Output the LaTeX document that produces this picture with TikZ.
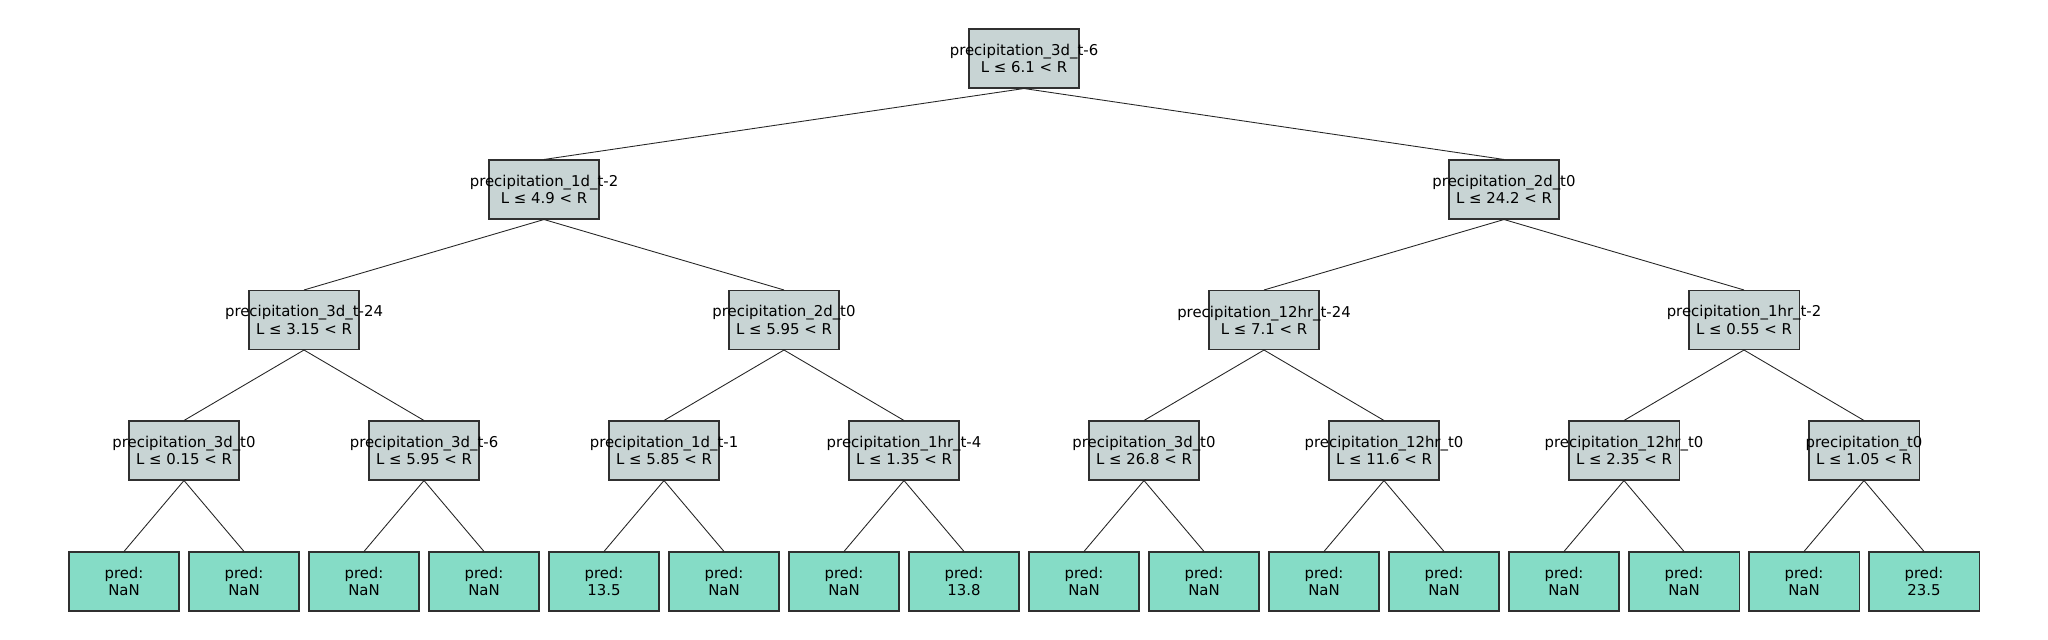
\documentclass[tikz,border=0pt]{standalone}
\usepackage{fontspec}
\setmainfont{DejaVu Sans}
\usepackage{tikz}

\definecolor{splitgray}{HTML}{C8D4D4}
\definecolor{leafgreen}{HTML}{85DCC6}
\definecolor{boxline}{HTML}{303030}

% split text: feature name and threshold, allowed to overflow the box
\newcommand{\splitlabel}[2]{\makebox[0pt]{precipitation\_#1}\\\makebox[0pt]{L ≤ #2 < R}}

\begin{document}
\begin{tikzpicture}[
x=0.25mm,y=-0.25mm,
box/.style={draw=boxline,line width=0.26mm,minimum width=27.5mm,minimum height=14.75mm,inner sep=0pt,align=center,
  font=\fontsize{10.6pt}{12.2pt}\selectfont},
split/.style={box,fill=splitgray},
leaf/.style={box,fill=leafgreen},
edge/.style={line width=0.22mm,black!85}]
\useasboundingbox (0,0) rectangle (2048,640);
% splits
\node[split] (T) at (1024,58.5) {\splitlabel{3d\_t-6}{6.1}};
\node[split] (TL) at (544,189.5) {\splitlabel{1d\_t-2}{4.9}};
\node[split] (TR) at (1504,189.5) {\splitlabel{2d\_t0}{24.2}};
\node[split] (TLL) at (304,320) {\splitlabel{3d\_t-24}{3.15}};
\node[split] (TLR) at (784,320) {\splitlabel{2d\_t0}{5.95}};
\node[split] (TRL) at (1264,320) {\splitlabel{12hr\_t-24}{7.1}};
\node[split] (TRR) at (1744,320) {\splitlabel{1hr\_t-2}{0.55}};
\node[split] (TLLL) at (184,450.5) {\splitlabel{3d\_t0}{0.15}};
\node[split] (TLLR) at (424,450.5) {\splitlabel{3d\_t-6}{5.95}};
\node[split] (TLRL) at (664,450.5) {\splitlabel{1d\_t-1}{5.85}};
\node[split] (TLRR) at (904,450.5) {\splitlabel{1hr\_t-4}{1.35}};
\node[split] (TRLL) at (1144,450.5) {\splitlabel{3d\_t0}{26.8}};
\node[split] (TRLR) at (1384,450.5) {\splitlabel{12hr\_t0}{11.6}};
\node[split] (TRRL) at (1624,450.5) {\splitlabel{12hr\_t0}{2.35}};
\node[split] (TRRR) at (1864,450.5) {\splitlabel{t0}{1.05}};
% leaves
\node[leaf] (TLLLL) at (124,581.5) {pred:\\NaN};
\node[leaf] (TLLLR) at (244,581.5) {pred:\\NaN};
\node[leaf] (TLLRL) at (364,581.5) {pred:\\NaN};
\node[leaf] (TLLRR) at (484,581.5) {pred:\\NaN};
\node[leaf] (TLRLL) at (604,581.5) {pred:\\13.5};
\node[leaf] (TLRLR) at (724,581.5) {pred:\\NaN};
\node[leaf] (TLRRL) at (844,581.5) {pred:\\NaN};
\node[leaf] (TLRRR) at (964,581.5) {pred:\\13.8};
\node[leaf] (TRLLL) at (1084,581.5) {pred:\\NaN};
\node[leaf] (TRLLR) at (1204,581.5) {pred:\\NaN};
\node[leaf] (TRLRL) at (1324,581.5) {pred:\\NaN};
\node[leaf] (TRLRR) at (1444,581.5) {pred:\\NaN};
\node[leaf] (TRRLL) at (1564,581.5) {pred:\\NaN};
\node[leaf] (TRRLR) at (1684,581.5) {pred:\\NaN};
\node[leaf] (TRRRL) at (1804,581.5) {pred:\\NaN};
\node[leaf] (TRRRR) at (1924,581.5) {pred:\\23.5};
% branches
\foreach \n in {T,TL,TR,TLL,TLR,TRL,TRR,TLLL,TLLR,TLRL,TLRR,TRLL,TRLR,TRRL,TRRR}
  \draw[edge] (\n.south) -- (\n L.north) (\n.south) -- (\n R.north);
\end{tikzpicture}
\end{document}
